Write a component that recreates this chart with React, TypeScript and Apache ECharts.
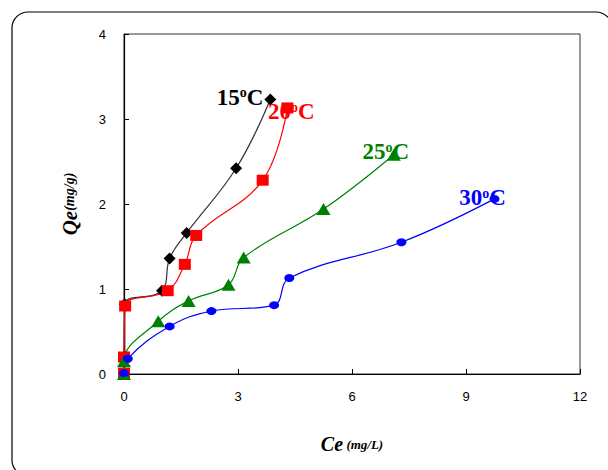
import React, { useEffect, useRef } from "react";
import * as echarts from "echarts";

const xTicks = [0, 3, 6, 9, 12];
const yTicks = [0, 1, 2, 3, 4];

const s15: [number, number][] = [[0, 0], [0.02, 0.2], [0.02, 0.82], [1.0, 0.98], [1.2, 1.36], [1.65, 1.66], [2.95, 2.42], [3.85, 3.23]];
const s20: [number, number][] = [[0, 0.01], [0, 0.2], [0.03, 0.8], [1.15, 0.98], [1.6, 1.29], [1.9, 1.63], [3.65, 2.28], [4.3, 3.13]];
const s25: [number, number][] = [[0, 0], [0, 0.15], [0.9, 0.62], [1.7, 0.86], [2.75, 1.05], [3.15, 1.37], [5.25, 1.94], [7.1, 2.58]];
const s30: [number, number][] = [[0, 0.01], [0.1, 0.18], [1.2, 0.56], [2.3, 0.74], [3.95, 0.81], [4.35, 1.13], [7.3, 1.55], [9.75, 2.06]];

const seriesNames = ["15", "20", "25", "30"];
const colors = ["#000000", "#ff0000", "#008000", "#0000ff"];
const lineColors = ["#333333", "#ff0000", "#008000", "#0000ff"];

export default function App() {
  const ref = useRef<HTMLDivElement>(null);
  useEffect(() => {
    document.body.style.margin = "0";
    const chart = echarts.init(ref.current!, null, { renderer: "svg" });
    const serif = "Liberation Serif";
    const labelRich = (c: string) => ({
      a: { fontFamily: serif, fontWeight: "bold", fontSize: 23, color: c },
      s: { fontFamily: serif, fontWeight: "bold", fontSize: 14, color: c, padding: [0, 0, 9, 0] },
    });
    const labelOffsets: any[] = [
      { position: "left", distance: 1, offset: [0, -2] },
      { position: "inside", offset: [4, 4] },
      { position: "inside", offset: [-8, -3] },
      { position: "inside", offset: [-12, -1] },
    ];
    const datas = [s15, s20, s25, s30];
    const symbols = ["diamond", "rect", "triangle", "circle"];
    const sizes: any[] = [[12, 12], [12, 11], [14, 12], [10, 8]];
    const series = datas.map((d, i) => ({
      type: "line",
      name: seriesNames[i],
      smooth: 0.4,
      symbol: symbols[i],
      symbolSize: sizes[i],
      itemStyle: { color: colors[i] },
      lineStyle: { color: lineColors[i], width: 1.2 },
      data: d.map((p, j) =>
        j === d.length - 1
          ? {
              value: p,
              label: {
                show: true,
                ...labelOffsets[i],
                formatter: `{a|${seriesNames[i]}}{s|o}{a|C}`,
                rich: labelRich(colors[i]),
              },
            }
          : p
      ),
    }));
    chart.setOption({
      animation: false,
      graphic: [
        {
          type: "rect",
          shape: { x: 12, y: 12, width: 600, height: 464, r: 16 },
          style: { fill: "none", stroke: "#000", lineWidth: 1.2 },
          silent: true,
        },
      ],
      grid: { left: 124, right: 28, top: 34, bottom: 96, show: true, borderColor: "#333", borderWidth: 1 },
      xAxis: {
        type: "value",
        min: xTicks[0],
        max: xTicks[xTicks.length - 1],
        interval: 3,
        splitLine: { show: false },
        axisLine: { lineStyle: { color: "#000", width: 1.2 }, onZero: false },
        axisTick: { inside: true, length: 5, lineStyle: { color: "#000" } },
        axisLabel: { fontFamily: "Liberation Sans", fontSize: 13, color: "#000", margin: 16 },
        name: "{a|Ce} {b|(mg/L)}",
        nameLocation: "middle",
        nameGap: 60,
        nameTextStyle: {
          rich: {
            a: { fontFamily: serif, fontWeight: "bold", fontStyle: "italic", fontSize: 20, color: "#000" },
            b: { fontFamily: serif, fontWeight: "bold", fontStyle: "italic", fontSize: 13, color: "#000" },
          },
        },
      },
      yAxis: {
        type: "value",
        min: yTicks[0],
        max: yTicks[yTicks.length - 1],
        interval: 1,
        splitLine: { show: false },
        axisLine: { lineStyle: { color: "#000", width: 1.2 }, onZero: false },
        axisTick: { inside: true, length: 5, lineStyle: { color: "#000" } },
        axisLabel: { fontFamily: "Liberation Sans", fontSize: 13, color: "#000", margin: 18 },
        name: "{a|Qe}{b|(mg/g)}",
        nameLocation: "middle",
        nameGap: 44,
        nameTextStyle: {
          rich: {
            a: { fontFamily: serif, fontWeight: "bold", fontStyle: "italic", fontSize: 21, color: "#000" },
            b: { fontFamily: serif, fontWeight: "bold", fontStyle: "italic", fontSize: 14, color: "#000" },
          },
        },
      },
      series,
    });
    return () => chart.dispose();
  }, []);
  return <div ref={ref} style={{ width: 608, height: 470 }} />;
}
